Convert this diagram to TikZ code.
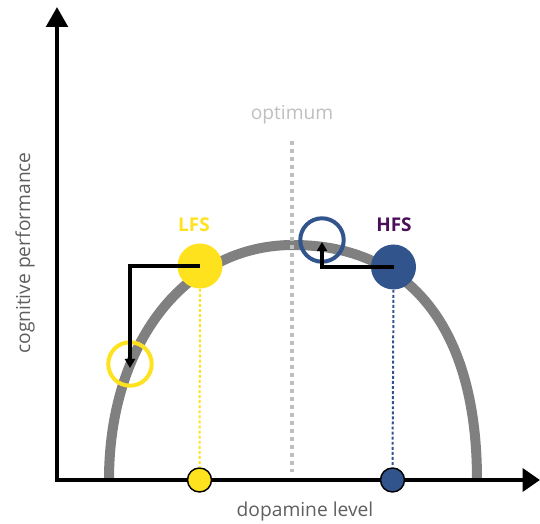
\documentclass[tikz,border=0pt]{standalone}
\usepackage{fontspec}
\setmainfont{Open Sans}
\usetikzlibrary{arrows.meta}
\definecolor{curvegray}{RGB}{128,128,128}
\definecolor{lfsyellow}{RGB}{255,226,30}
\definecolor{hfsblue}{RGB}{50,84,140}
\definecolor{hfspurple}{RGB}{75,15,90}
\definecolor{labelgray}{RGB}{95,95,95}
\definecolor{optgray}{RGB}{191,191,191}
\tikzset{
  axisline/.style={line width=3.2pt, {Triangle[length=15pt,width=16pt]}-{Triangle[length=13pt,width=17pt]}},
  curveline/.style={draw=curvegray, line width=7.5pt},
  optline/.style={draw=optgray, line width=3pt, dash pattern=on 3pt off 3pt},
  axlabel/.style={text=labelgray, font=\fontsize{14.4}{17}\selectfont, inner sep=0pt},
  grplabel/.style={font=\bfseries\fontsize{14.2}{17}\selectfont, inner sep=0pt},
  fullcirc/.style={circle, inner sep=0pt, minimum size=33.75pt},
  opencirc/.style={circle, inner sep=0pt, minimum size=32.6pt, line width=3pt, fill=none},
  axcirc/.style={circle, inner sep=0pt, minimum size=18pt, draw=black, line width=1.1pt},
  projline/.style={line width=1.5pt, dash pattern=on 2.2pt off 1.6pt},
  move/.style={draw=black, line width=2.6pt, -{Triangle[length=6.75pt,width=7.5pt]}}
}
\begin{document}
\begin{tikzpicture}[x=0.75pt,y=-0.75pt]
\useasboundingbox (0,0) rectangle (540,524);
% curve
\draw[curveline] (109,480) .. controls (109,343) and (185.5,245) .. (293,245)
  .. controls (410.8,245) and (477,329) .. (477,480);
% optimum
\node[axlabel, text=optgray] (opt) at (292,115) {optimum};
\coordinate (optA) at (292,141);
\coordinate (optB) at (292,472);
\draw[optline] (optA) -- (optB);
% axes
\coordinate (O) at (57,480);
\coordinate (ytop) at (57,7);
\coordinate (xend) at (540,480);
\draw[axisline] (ytop) -- (O) -- (xend);
\node[axlabel] (xl) at (305,512) {dopamine level};
\node[axlabel, rotate=90] (yl) at (25,253) {cognitive performance};
% axis circles
\node[axcirc, fill=lfsyellow] (LFSax) at (199.5,480) {};
\node[axcirc, fill=hfsblue] (HFSax) at (392.5,480) {};
% main circles
\node[fullcirc, fill=lfsyellow] (LFS) at (200,266) {};
\node[fullcirc, fill=hfsblue] (HFS) at (393.5,267) {};
\node[opencirc, draw=lfsyellow] (LFSnew) at (130,364) {};
\node[opencirc, draw=hfsblue] (HFSnew) at (322,240) {};
% projections
\draw[projline, draw=lfsyellow] (LFS.south) -- (LFSax.north);
\draw[projline, draw=hfsblue] (HFS.south) -- (HFSax.north);
% labels
\node[grplabel, text=lfsyellow] (lfsl) at (194,225) {LFS};
\node[grplabel, text=hfspurple] (hfsl) at (394,225) {HFS};
% shifts
\coordinate (lfstip) at (130,368);
\coordinate (hfstip) at (322,242);
\draw[move] (LFS.center) -| (lfstip);
\draw[move] (HFS.center) -| (hfstip);
\end{tikzpicture}
\end{document}
